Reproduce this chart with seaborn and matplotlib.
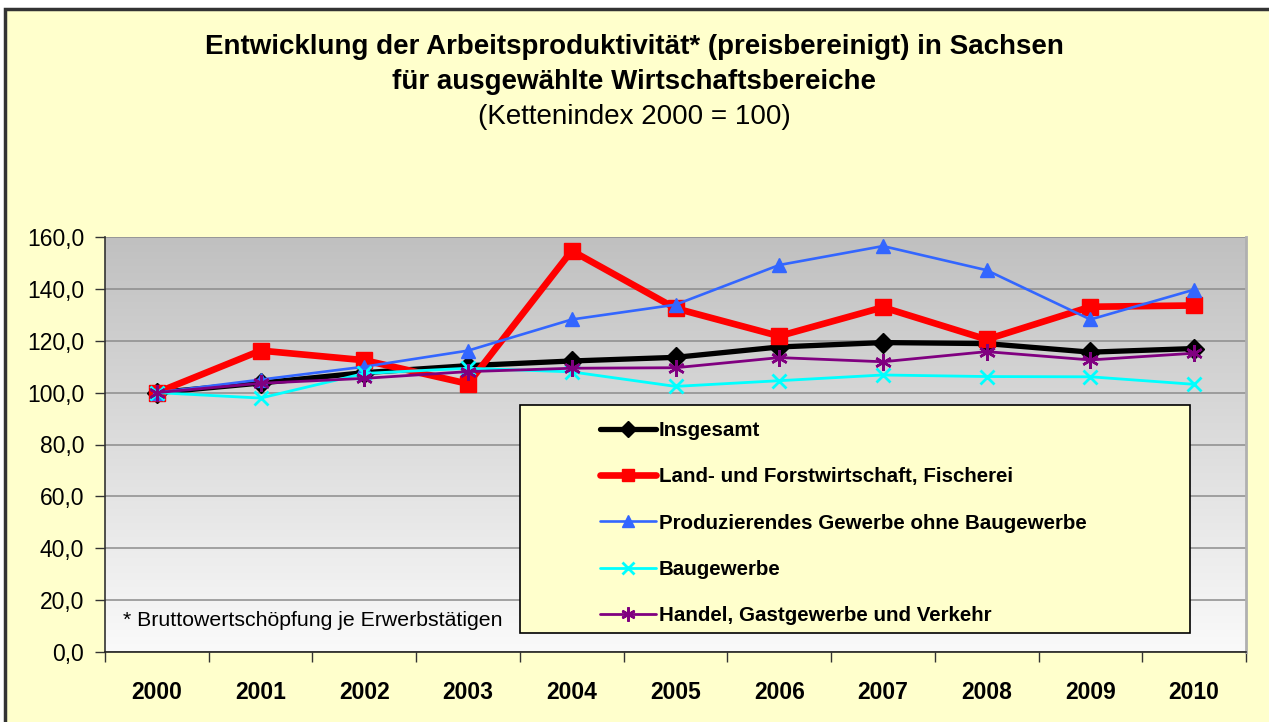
import numpy as np
import pandas as pd
import seaborn as sns
import matplotlib.pyplot as plt
import matplotlib.ticker as mtick
from matplotlib.patches import Rectangle

# ----------------------------
# Data (Kettenindex 2000 = 100)
# ----------------------------
years = [2000, 2001, 2002, 2003, 2004, 2005, 2006, 2007, 2008, 2009, 2010]

insgesamt = [100.0, 103.7, 107.7, 110.4, 112.2, 113.6, 117.6, 119.3, 118.9, 115.6, 117.0]
land_forst = [100.0, 116.2, 112.5, 103.4, 154.7, 132.5, 121.8, 132.9, 120.5, 133.1, 133.6]
produzierend = [100.0, 105.0, 110.0, 116.2, 128.2, 133.9, 149.2, 156.5, 147.2, 128.2, 139.7]
baugewerbe = [100.0, 97.9, 107.4, 109.4, 108.0, 102.4, 104.6, 106.8, 106.2, 106.1, 103.2]
handel = [100.0, 103.6, 105.5, 108.1, 109.4, 109.6, 113.5, 111.9, 115.8, 112.6, 115.2]

series_names = [
    "Insgesamt",
    "Land- und Forstwirtschaft, Fischerei",
    "Produzierendes Gewerbe ohne Baugewerbe",
    "Baugewerbe",
    "Handel, Gastgewerbe und Verkehr",
]
series_values = [insgesamt, land_forst, produzierend, baugewerbe, handel]

df = pd.DataFrame({"Jahr": years})
for name, vals in zip(series_names, series_values):
    df[name] = vals
df_long = df.melt(id_vars="Jahr", var_name="Bereich", value_name="Index")

# ----------------------------
# Style
# ----------------------------
sns.set_theme(style="white")
plt.rcParams["font.family"] = ["Liberation Sans", "DejaVu Sans"]
plt.rcParams["text.color"] = "black"

YELLOW = "#FFFFCC"
STYLES = {
    "Insgesamt": dict(color="black", lw=3.8, marker="D", ms=10, mew=1),
    "Land- und Forstwirtschaft, Fischerei": dict(color="#FF0000", lw=4.8, marker="s", ms=11, mew=1),
    "Produzierendes Gewerbe ohne Baugewerbe": dict(color="#3366FF", lw=1.9, marker="^", ms=10.5, mew=1),
    "Baugewerbe": dict(color="#00FFFF", lw=2.0, marker="x", ms=10.5, mew=2.0),
    "Handel, Gastgewerbe und Verkehr": dict(color="#800080", lw=2.0, marker=(6, 2, 0), ms=12, mew=1.8),
}

W, H = 1269, 722
fig = plt.figure(figsize=(W / 100, H / 100), dpi=100)
fig.patch.set_facecolor("white")

# outer chart frame (cut off at right/bottom)
fig.patches.append(Rectangle((5 / W, -0.1), 1.2, 1 - 9 / H + 0.1,
                             transform=fig.transFigure, facecolor=YELLOW,
                             edgecolor="#333333", lw=2.5, zorder=-10))

ax = fig.add_axes([105 / W, (H - 652) / H, (1246 - 105) / W, (652 - 237) / H])
ax.set_facecolor("none")

# gradient plot area
grad = np.linspace(0, 1, 256).reshape(-1, 1)
top_c = np.array([192, 192, 192]) / 255
bot_c = np.array([250, 250, 250]) / 255
img = top_c[None, None, :] * (1 - grad[:, :, None]) + bot_c[None, None, :] * grad[:, :, None]
ax.imshow(img, extent=[0, 1, 0, 1], transform=ax.transAxes, aspect="auto", zorder=0)

for name in series_names:
    st = STYLES[name]
    sub = df_long[df_long["Bereich"] == name]
    sns.lineplot(data=sub, x="Jahr", y="Index", ax=ax, color=st["color"],
                 linewidth=st["lw"], marker=st["marker"], markersize=st["ms"],
                 markeredgewidth=st["mew"], markeredgecolor=st["color"],
                 markerfacecolor=st["color"], label=name, zorder=3)

ax.set_xlim(1999.5, 2010.5)
ax.set_ylim(0, 160)
ax.set_xlabel("")
ax.set_ylabel("")

# y axis
ax.yaxis.set_major_locator(mtick.MultipleLocator(20))
ax.yaxis.set_major_formatter(mtick.FuncFormatter(lambda v, p: f"{v:.1f}".replace(".", ",")))
ax.tick_params(axis="y", direction="out", length=7, width=1, color="#333333",
               pad=8, labelsize=16.5, labelcolor="black", left=True)
ax.grid(axis="y", color="#8c8c8c", lw=1.1, zorder=1)
ax.set_axisbelow(True)

# x axis: ticks at category borders, labels centred
ax.set_xticks(np.arange(1999.5, 2011, 1))
ax.set_xticklabels([])
ax.set_xticks(years, minor=True)
ax.set_xticklabels([str(y) for y in years], minor=True, fontweight="bold", fontsize=16.5)
ax.tick_params(axis="x", which="major", direction="out", length=7, width=1,
               color="#333333", bottom=True)
ax.tick_params(axis="x", which="minor", length=0, pad=21, labelcolor="black")

ax.spines["top"].set_visible(False)
ax.spines["right"].set_color("#b0b0b0")
ax.spines["right"].set_linewidth(2)
ax.spines["left"].set_color("#333333")
ax.spines["bottom"].set_color("#222222")
ax.spines["left"].set_linewidth(1.2)
ax.spines["bottom"].set_linewidth(1.2)

# legend box
lx0, lx1 = (520 - 105) / 1141, (1190 - 105) / 1141
ly0, ly1 = (652 - 633) / 415, (652 - 405) / 415
ax.add_patch(Rectangle((lx0, ly0), lx1 - lx0, ly1 - ly0, transform=ax.transAxes,
                       facecolor=YELLOW, edgecolor="black", lw=1.2, zorder=4))
leg = ax.legend(loc="upper left", bbox_to_anchor=((600 - 105) / 1141, (652 - 421) / 415),
                frameon=False, borderpad=0, borderaxespad=0, handlelength=2.7,
                handletextpad=0.15, labelspacing=1.33,
                prop={"weight": "bold", "size": 14.8})
leg.set_zorder(5)
for h in leg.legend_handles:
    h.set_markersize(h.get_markersize() * 0.85)

# footnote
ax.text((123 - 105) / 1141, (652 - 621) / 415, "* Bruttowertschöpfung je Erwerbstätigen",
        transform=ax.transAxes, fontsize=15.3, va="center", ha="left", zorder=4)

# title
fig.text(0.5, 1 - 47 / H, "Entwicklung der Arbeitsproduktivität* (preisbereinigt) in Sachsen",
         ha="center", va="center", fontsize=20, fontweight="bold")
fig.text(0.5, 1 - 82 / H, "für ausgewählte Wirtschaftsbereiche",
         ha="center", va="center", fontsize=20, fontweight="bold")
fig.text(0.5, 1 - 117 / H, "(Kettenindex 2000 = 100)",
         ha="center", va="center", fontsize=20)

plt.savefig("out.png", dpi=100, facecolor=fig.get_facecolor())
plt.close()
